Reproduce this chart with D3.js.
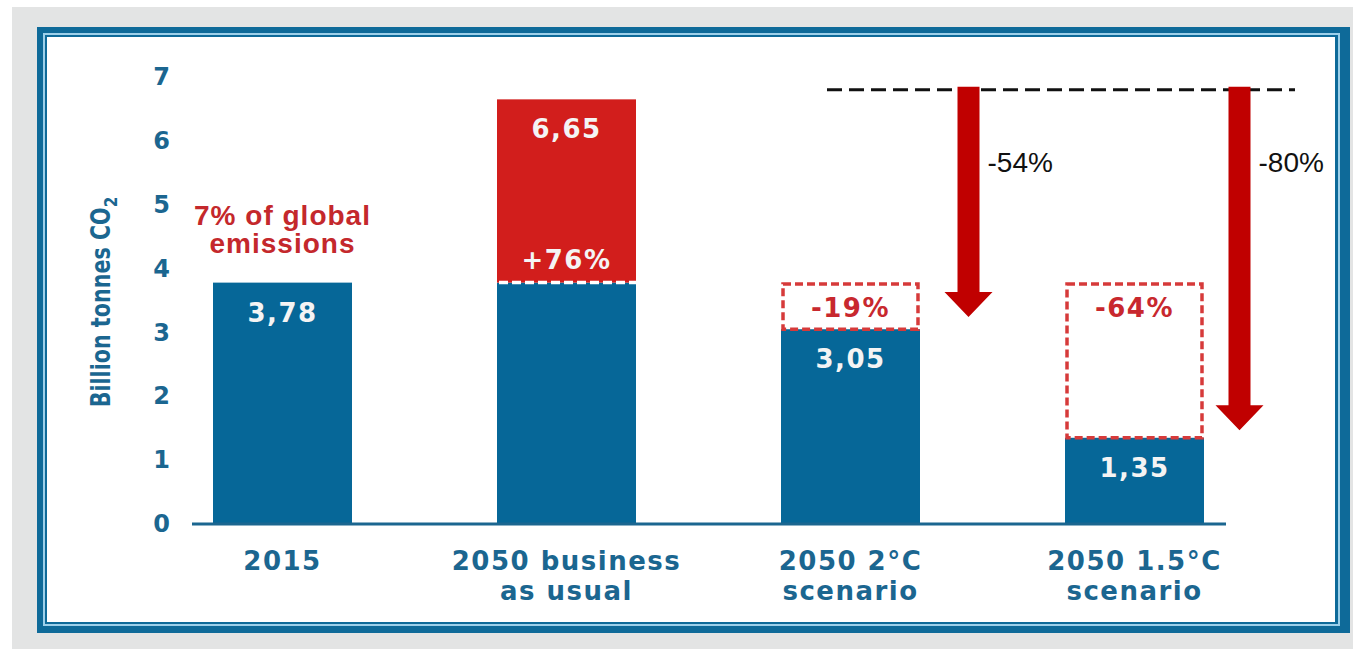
<!DOCTYPE html>
<html>
<head>
<meta charset="utf-8">
<script src="https://cdn.jsdelivr.net/npm/d3@7"></script>
<style>
  html, body { margin: 0; padding: 0; background: #ffffff; }
  svg { display: block; }
</style>
</head>
<body>
<div id="chart"></div>
<script>
// Aviation CO2 emissions: 2015 level and 2050 scenarios (billion tonnes)
const categories = ["2015", "2050 business as usual", "2050 2°C scenario", "2050 1.5°C scenario"];
const categoryLines = [["2015"], ["2050 business", "as usual"], ["2050 2°C", "scenario"], ["2050 1.5°C", "scenario"]];
const totals = [3.78, 6.65, 3.05, 1.35];
const valueLabels = ["3,78", "6,65", "3,05", "1,35"];
const changeLabels = ["", "+76%", "-19%", "-64%"];
const baseLevel = 3.78;           // 2015 emissions, the reference for the change labels
const yTicks = [0, 1, 2, 3, 4, 5, 6, 7];
const referenceLevel = 6.8;       // dashed business-as-usual reference line
const arrowTargets = ["2050 2°C scenario", "2050 1.5°C scenario"];
const arrowEnds = [3.24, 1.47];
const arrowLabels = ["-54%", "-80%"];

const W = 1353, H = 649;
const BLUE = "#066798", AXIS = "#1b6690", RED = "#d21e1c", DARKRED = "#c00000", TXTRED = "#c4282c";

const svg = d3.select("#chart").append("svg").attr("width", W).attr("height", H);

// page and framed panel
svg.append("rect").attr("x", 0).attr("y", 0).attr("width", W).attr("height", H).attr("fill", "#ffffff");
svg.append("rect").attr("x", 12).attr("y", 7).attr("width", W - 12).attr("height", H - 7).attr("fill", "#e3e4e4");
const frame = [
  { x0: 37, y0: 27, x1: 1350, y1: 633, c: "#0e6a99" },
  { x0: 43, y0: 33, x1: 1340, y1: 626, c: "#9dd0ea" },
  { x0: 45, y0: 35, x1: 1338, y1: 624, c: "#0e6a99" },
  { x0: 47, y0: 37, x1: 1335, y1: 622, c: "#ffffff" }
];
svg.selectAll("rect.frame").data(frame).join("rect").attr("class", "frame")
  .attr("x", d => d.x0).attr("y", d => d.y0)
  .attr("width", d => d.x1 - d.x0).attr("height", d => d.y1 - d.y0)
  .attr("fill", d => d.c);

// scales
const y = d3.scaleLinear().domain([0, 7]).range([524, 77]);
const x = d3.scaleBand().domain(categories).range([140.5, 1276.5]).paddingInner(0.5106).paddingOuter(0.2553);
const bw = x.bandwidth();

const rows = categories.map((c, i) => ({ c, total: totals[i], label: valueLabels[i], change: changeLabels[i], lines: categoryLines[i] }));

// y axis
const yAxis = svg.append("g").attr("transform", "translate(192,0)")
  .call(d3.axisLeft(y).tickValues(yTicks).tickFormat(d3.format("d")).tickSize(0).tickPadding(22));
yAxis.select(".domain").remove();
yAxis.selectAll("text")
  .attr("fill", AXIS).attr("font-family", "DejaVu Sans").attr("font-weight", "bold").attr("font-size", 24);

// y axis title
const yTitle = svg.append("text")
  .attr("transform", "translate(110,302) rotate(-90)")
  .attr("text-anchor", "middle")
  .attr("fill", AXIS).attr("font-family", "'Liberation Sans Narrow', 'DejaVu Sans Condensed', sans-serif")
  .attr("font-weight", "bold").attr("font-size", 27);
yTitle.append("tspan").attr("textLength", 200).attr("lengthAdjust", "spacingAndGlyphs").text("Billion tonnes CO");
yTitle.append("tspan").attr("font-size", 17).attr("dy", 7).text("2");

// blue base bars
svg.selectAll("rect.base").data(rows).join("rect").attr("class", "base")
  .attr("x", d => x(d.c)).attr("width", bw)
  .attr("y", d => y(Math.min(d.total, baseLevel)))
  .attr("height", d => y(0) - y(Math.min(d.total, baseLevel)))
  .attr("fill", BLUE);

// growth above the 2015 level
const growth = rows.filter(d => d.total > baseLevel);
svg.selectAll("rect.growth").data(growth).join("rect").attr("class", "growth")
  .attr("x", d => x(d.c)).attr("width", bw)
  .attr("y", d => y(d.total)).attr("height", d => y(baseLevel) - y(d.total))
  .attr("fill", RED);
svg.selectAll("line.split").data(growth).join("line").attr("class", "split")
  .attr("x1", d => x(d.c) + 2).attr("x2", d => x(d.c) + bw)
  .attr("y1", y(baseLevel)).attr("y2", y(baseLevel))
  .attr("stroke", "#ffffff").attr("stroke-width", 3.5).attr("stroke-dasharray", "9,4");

// reduction below the 2015 level, shown as dashed outlines
const cut = rows.filter(d => d.total < baseLevel);
svg.selectAll("rect.cut").data(cut).join("rect").attr("class", "cut")
  .attr("x", d => x(d.c) + 2).attr("width", bw - 4)
  .attr("y", y(baseLevel) + 1.5).attr("height", d => y(d.total) - y(baseLevel) - 1.5)
  .attr("fill", "none").attr("stroke", "#d63a3a").attr("stroke-width", 3.5).attr("stroke-dasharray", "8,4");

// baseline
svg.append("line").attr("x1", 192).attr("x2", 1226).attr("y1", y(0)).attr("y2", y(0))
  .attr("stroke", AXIS).attr("stroke-width", 3);

// x axis labels
const xAxis = svg.append("g").attr("transform", `translate(0,${y(0)})`)
  .call(d3.axisBottom(x).tickSize(0).tickFormat(""));
xAxis.select(".domain").remove();
xAxis.selectAll(".tick").each(function (c) {
  const lines = categoryLines[categories.indexOf(c)];
  const t = d3.select(this).append("text")
    .attr("text-anchor", "middle").attr("fill", AXIS)
    .attr("font-family", "DejaVu Sans").attr("font-weight", "bold").attr("font-size", 26)
    .attr("letter-spacing", 1.5);
  lines.forEach((s, i) => t.append("tspan").attr("x", 0).attr("y", 46 + i * 30).text(s));
});

// value labels inside the bars
svg.selectAll("text.value").data(rows).join("text").attr("class", "value")
  .attr("x", d => x(d.c) + bw / 2).attr("y", d => y(d.total) + 39)
  .attr("text-anchor", "middle").attr("fill", "#f4f4f4")
  .attr("font-family", "DejaVu Sans").attr("font-weight", "bold").attr("font-size", 26).attr("letter-spacing", 1.5)
  .text(d => d.label);

// change vs 2015: growth labelled just under the 2015 mark, cuts at the top of their outline
svg.selectAll("text.change").data(rows.filter(d => d.change)).join("text").attr("class", "change")
  .attr("x", d => x(d.c) + bw / 2)
  .attr("y", d => d.total > baseLevel ? y(baseLevel) - 14 : y(baseLevel) + 34)
  .attr("text-anchor", "middle")
  .attr("fill", d => d.total > baseLevel ? "#f4f4f4" : "#c8282e")
  .attr("font-family", "DejaVu Sans").attr("font-weight", "bold").attr("font-size", 26).attr("letter-spacing", 1.5)
  .text(d => d.change);

// share of global emissions note
const note = svg.append("text").attr("x", x(categories[0]) + bw / 2).attr("text-anchor", "middle")
  .attr("fill", TXTRED).attr("font-family", "Liberation Sans, Arial, sans-serif")
  .attr("font-weight", "bold").attr("font-size", 28).attr("letter-spacing", 1);
note.append("tspan").attr("x", x(categories[0]) + bw / 2).attr("y", 225).text("7% of global");
note.append("tspan").attr("x", x(categories[0]) + bw / 2).attr("y", 253).text("emissions");

// business-as-usual reference line
svg.append("line").attr("x1", 827).attr("x2", 1295).attr("y1", y(referenceLevel)).attr("y2", y(referenceLevel))
  .attr("stroke", "#111111").attr("stroke-width", 3).attr("stroke-dasharray", "15,7");

// reduction arrows from the reference level
const arrowOffsets = [118, 105];
const arrows = arrowTargets.map((c, i) => ({ cx: x(c) + bw / 2 + arrowOffsets[i], end: arrowEnds[i], label: arrowLabels[i] }));
const shaftW = 22, headW = 48, headL = 25;
svg.selectAll("path.arrow").data(arrows).join("path").attr("class", "arrow")
  .attr("d", d => {
    const top = y(referenceLevel) - 3, tip = y(d.end), base = tip - headL;
    return `M${d.cx - shaftW / 2},${top}L${d.cx + shaftW / 2},${top}L${d.cx + shaftW / 2},${base}` +
      `L${d.cx + headW / 2},${base}L${d.cx},${tip}L${d.cx - headW / 2},${base}L${d.cx - shaftW / 2},${base}Z`;
  })
  .attr("fill", DARKRED);
svg.selectAll("text.arrowlabel").data(arrows).join("text").attr("class", "arrowlabel")
  .attr("x", d => d.cx + 19).attr("y", 172)
  .attr("fill", "#111111").attr("font-family", "Liberation Sans, Arial, sans-serif").attr("font-size", 28)
  .text(d => d.label);
</script>
</body>
</html>
